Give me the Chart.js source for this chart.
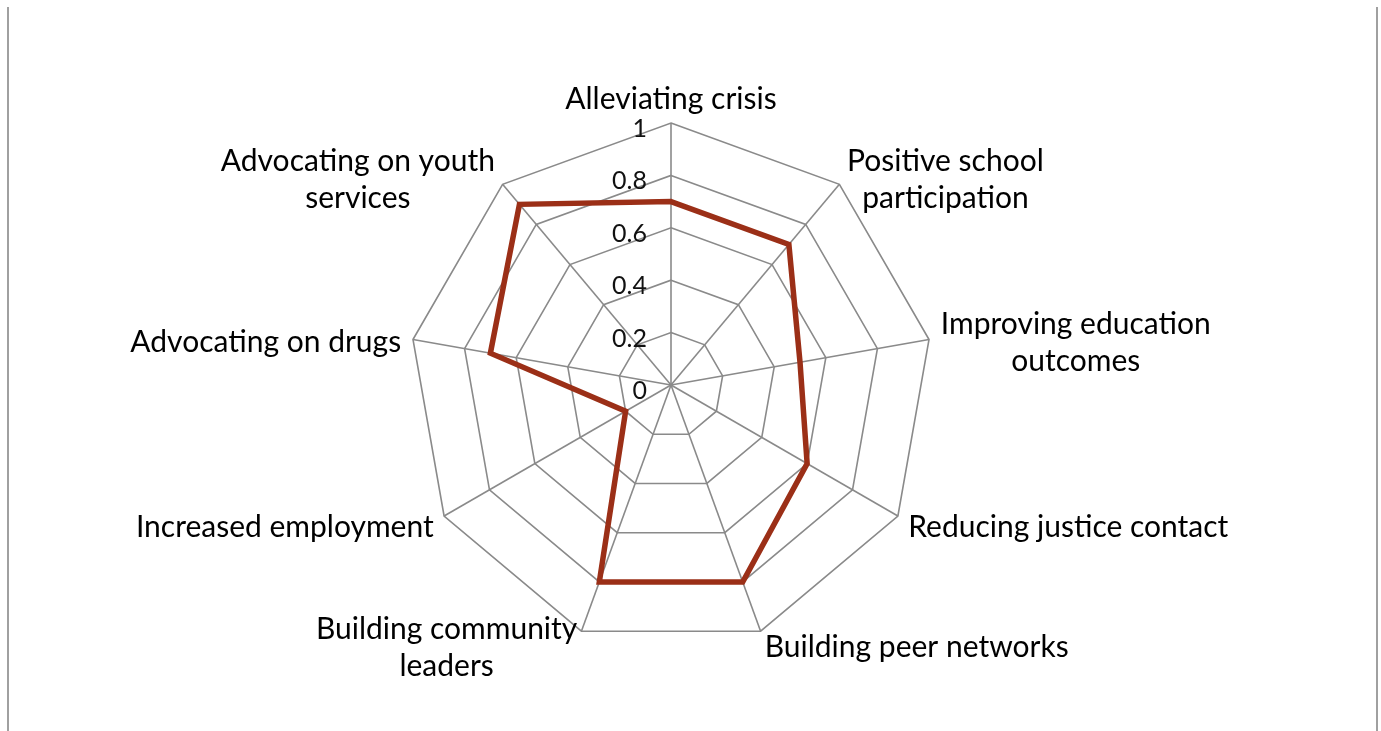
<!DOCTYPE html>
<html>
<head>
<meta charset="utf-8">
<script src="https://cdn.jsdelivr.net/npm/chart.js@4.4.1/dist/chart.umd.min.js"></script>
<style>
  body { margin: 0; background: #fff; }
  .frame { position: absolute; left: 7px; top: 7px; width: 1367px; height: 724px; border-left: 2px solid #a0a0a0; border-right: 2px solid #a0a0a0; }
  #radarChart { position: absolute; left: 0; top: 0; }
</style>
</head>
<body>
<div class="frame"></div>
<canvas id="radarChart" width="1381" height="731"></canvas>
<script>
var categories = [
  "Alleviating crisis",
  ["Positive school", "participation"],
  ["Improving education", "outcomes"],
  "Reducing justice contact",
  "Building peer networks",
  ["Building community", "leaders"],
  "Increased employment",
  "Advocating on drugs",
  ["Advocating on youth", "services"]
];
var values = [0.7, 0.7, 0.5, 0.6, 0.8, 0.8, 0.2, 0.7, 0.9];
var tickValues = [0, 0.2, 0.4, 0.6, 0.8, 1];
var tickLabels = ["0", "0.2", "0.4", "0.6", "0.8", "1"];

var labelFont = "30px Lato";
var tickFont = "25px Lato";
var lineHeight = 37;

/* tick numbers beside the vertical axis and the category names round the web */
var radarText = {
  id: "radarText",
  afterDraw: function (chart) {
    var ctx = chart.ctx;
    var scale = chart.scales.r;
    ctx.save();

    ctx.font = tickFont;
    ctx.fillStyle = "#111";
    ctx.textAlign = "right";
    ctx.textBaseline = "middle";
    for (var i = 0; i < tickValues.length; i++) {
      var d = scale.getDistanceFromCenterForValue(tickValues[i]);
      ctx.fillText(tickLabels[i], scale.xCenter - 24, scale.yCenter - d + 6);
    }

    ctx.font = labelFont;
    ctx.fillStyle = "#000";
    ctx.textAlign = "center";
    for (var j = 0; j < categories.length; j++) {
      var p = scale.getPointPosition(j, scale.drawingArea + 12);
      var lines = [].concat(categories[j]);
      var w = 0;
      lines.forEach(function (t) { w = Math.max(w, ctx.measureText(t).width); });
      var cx = p.x;
      if (p.x > scale.xCenter + 2) cx = p.x + w / 2;
      if (p.x < scale.xCenter - 2) cx = p.x - w / 2;
      var h = lines.length * lineHeight;
      var top = p.y - h / 2 + 5;
      if (j === 0) top = p.y - lineHeight + 7;
      for (var k = 0; k < lines.length; k++) {
        ctx.fillText(lines[k], cx, top + lineHeight * (k + 0.5));
      }
    }
    ctx.restore();
  }
};

var ctx = document.getElementById("radarChart");
var radarChart = new Chart(ctx, {
  type: "radar",
  data: {
    labels: categories,
    datasets: [{
      label: "Outcomes",
      data: values,
      borderColor: "#9b2f17",
      borderWidth: 5.5,
      borderJoinStyle: "miter",
      pointRadius: 0,
      fill: false,
      tension: 0
    }]
  },
  options: {
    responsive: false,
    animation: false,
    layout: { padding: { top: 123, bottom: 84, left: 0, right: 39 } },
    plugins: { legend: { display: false }, tooltip: { enabled: false } },
    scales: {
      r: {
        min: 0,
        max: 1,
        ticks: { stepSize: 0.2, display: false },
        grid: { color: "#8a8a8a", lineWidth: 1.6 },
        angleLines: { color: "#8a8a8a", lineWidth: 1.6 },
        pointLabels: { display: false }
      }
    }
  },
  plugins: [radarText]
});
</script>
</body>
</html>
